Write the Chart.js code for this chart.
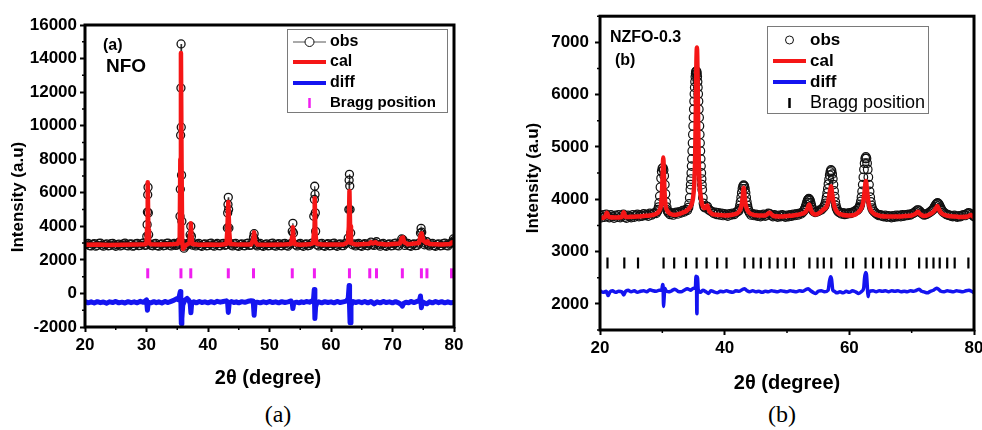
<!DOCTYPE html>
<html>
<head>
<meta charset="utf-8">
<script src="https://cdn.jsdelivr.net/npm/chart.js@4/dist/chart.umd.min.js"></script>
<style>
  html, body { margin: 0; padding: 0; background: #fff; }
  body { width: 982px; height: 430px; position: relative; overflow: hidden; }
  canvas { position: absolute; top: 0; }
  #nfo { left: 0; }
  #nzfo { left: 492px; }
  .caption {
    position: absolute;
    font-family: "Liberation Serif", "Times New Roman", serif;
    font-size: 24px;
    line-height: 1;
    transform: translate(-50%, -50%);
  }
</style>
</head>
<body>
<canvas id="nfo" width="490" height="400"></canvas>
<canvas id="nzfo" width="490" height="400"></canvas>
<div class="caption" style="left:278px; top:414px">(a)</div>
<div class="caption" style="left:782px; top:414px">(b)</div>
<script>
// ---------- NFO : [2theta, intensity] ----------
const nfoObs = [
  [20.0,2900],[20.25,2960],[20.5,2990],[20.75,2850],[21.0,2830],[21.25,2930],[21.5,2970],[21.75,2820],
  [22.0,2860],[22.25,2980],[22.5,3000],[22.75,2870],[23.0,2820],[23.25,2910],[23.5,2950],[23.75,2840],
  [24.0,2850],[24.25,2970],[24.5,2990],[24.75,2880],[25.0,2810],[25.25,2900],[25.5,2940],[25.75,2830],
  [26.0,2870],[26.25,2960],[26.5,3000],[26.75,2860],[27.0,2830],[27.25,2940],[27.5,2960],[27.75,2820],
  [28.0,2840],[28.25,2950],[28.5,2990],[28.75,2850],[29.0,2860],[29.25,2970],[29.5,3010],[29.75,2870],
  [29.9,2880],
  [30.05,3400],[30.1,4100],[30.15,4850],[30.2,5880],[30.25,6330],[30.3,4800],[30.35,3500],[30.5,2950],
  [30.75,2860],[31.0,2840],[31.25,2950],[31.5,2990],[31.75,2850],[32.0,2820],[32.25,2930],[32.5,2960],
  [32.75,2840],[33.0,2860],[33.25,2980],[33.5,3000],[33.75,2870],[34.0,2830],[34.25,2940],[34.5,2980],
  [34.75,2860],[35.0,2890],[35.15,2960],[35.3,3050],
  [35.45,4600],[35.5,6210],[35.55,9430],[35.6,12240],[35.62,14870],[35.65,9910],[35.7,7050],[35.75,4300],
  [35.85,3000],[36.1,2700],[36.3,2820],[36.5,2880],[36.7,2990],[36.9,2960],
  [37.1,3500],[37.2,4000],[37.3,3400],[37.5,2880],[37.75,2960],
  [38.0,2830],[38.25,2940],[38.5,2990],[38.75,2850],[39.0,2810],[39.25,2920],[39.5,2950],[39.75,2840],
  [40.0,2850],[40.25,2970],[40.5,3000],[40.75,2860],[41.0,2820],[41.25,2930],[41.5,2980],[41.75,2850],
  [42.0,2840],[42.25,2960],[42.5,2990],[42.75,2870],[43.0,2900],
  [43.15,3900],[43.2,4800],[43.25,5300],[43.3,5730],[43.35,5000],[43.4,3900],[43.55,3000],[43.75,2880],
  [44.0,2830],[44.25,2950],[44.5,2990],[44.75,2840],[45.0,2810],[45.25,2920],[45.5,2960],[45.75,2850],
  [46.0,2840],[46.25,2970],[46.5,3000],[46.75,2860],[47.0,2880],
  [47.4,3350],[47.5,3560],[47.6,3200],[47.8,2900],
  [48.0,2830],[48.25,2940],[48.5,2980],[48.75,2850],[49.0,2810],[49.25,2910],[49.5,2950],[49.75,2840],
  [50.0,2850],[50.25,2970],[50.5,3000],[50.75,2860],[51.0,2820],[51.25,2930],[51.5,2970],[51.75,2850],
  [52.0,2840],[52.25,2960],[52.5,2990],[52.75,2860],[53.0,2820],[53.25,2930],[53.5,2980],
  [53.7,3700],[53.8,4180],[53.9,3600],[54.2,2900],
  [54.5,2830],[54.75,2940],[55.0,2990],[55.25,2860],[55.5,2810],[55.75,2920],[56.0,2960],[56.25,2840],
  [56.5,2860],[56.75,2970],[57.0,3020],
  [57.2,4600],[57.3,5600],[57.35,6390],[57.4,5900],[57.45,4800],[57.5,3700],[57.7,2900],
  [58.0,2830],[58.25,2950],[58.5,2990],[58.75,2850],[59.0,2810],[59.25,2930],[59.5,2970],[59.75,2840],
  [60.0,2850],[60.25,2970],[60.5,3000],[60.75,2860],[61.0,2810],[61.25,2920],[61.5,2960],[61.75,2850],
  [62.0,2850],[62.25,2970],[62.5,3000],
  [62.8,3300],[62.9,5000],[62.95,6750],[63.0,7100],[63.05,6400],[63.1,5000],[63.2,3600],[63.5,2900],
  [63.75,2960],[64.0,2830],[64.25,2940],[64.5,2990],[64.75,2850],[65.0,2810],[65.25,2930],[65.5,2970],
  [65.75,2860],[66.0,2840],[66.25,2960],[66.5,3060],[66.75,2900],[67.0,2860],[67.2,2980],[67.4,3080],
  [67.7,2900],[68.0,2820],[68.25,2940],[68.5,2980],[68.75,2850],[69.0,2810],[69.25,2920],[69.5,2960],
  [69.75,2840],[70.0,2850],[70.25,2970],[70.5,3000],[70.75,2870],[71.0,2830],[71.25,2990],
  [71.5,3250],[71.7,3200],
  [72.0,2860],[72.25,2960],[72.5,2990],[72.75,2850],[73.0,2810],[73.25,2930],[73.5,2960],[73.75,2850],
  [74.0,2860],[74.3,3000],
  [74.55,3600],[74.65,3880],[74.75,3650],[74.9,3200],[75.2,2900],[75.4,2980],[75.6,3080],[75.8,2900],
  [76.0,2830],[76.25,2950],[76.5,2990],[76.75,2850],[77.0,2810],[77.25,2920],[77.5,2960],[77.75,2840],
  [78.0,2850],[78.25,2970],[78.5,3000],[78.75,2860],[79.0,2830],[79.25,2950],[79.5,2990],[79.75,3050],
  [79.9,3250],[80.0,3150]
];
const nfoCal = [
  [20,2900],[22,2915],[24,2890],[26,2905],[28,2915],[29.8,2930],[30.0,3000],[30.1,3900],[30.2,6630],
  [30.3,3800],[30.4,3000],[30.7,2930],[32,2910],[34,2925],[35.1,2960],[35.4,3300],[35.5,8000],
  [35.6,14330],[35.7,7800],[35.8,3100],[35.95,2650],[36.1,2750],[36.5,2900],[37.0,3000],[37.1,3600],
  [37.2,4180],[37.3,3500],[37.45,2950],[38.5,2900],[40,2910],[42,2900],[43.0,2950],[43.15,3800],
  [43.3,5450],[43.45,3700],[43.6,2950],[45,2910],[47,2920],[47.35,3200],[47.5,3640],[47.65,3100],
  [48,2920],[50,2900],[52,2910],[53.5,2950],[53.7,3400],[53.8,3940],[53.9,3300],[54.1,2940],[55,2900],
  [56.5,2930],[57.1,3000],[57.25,3800],[57.35,5680],[57.45,3800],[57.6,2980],[58.5,2920],[60,2910],
  [62,2920],[62.75,3050],[62.9,4000],[63.0,6100],[63.1,4000],[63.25,3000],[64,2920],[66.2,2960],
  [66.5,3060],[66.8,2980],[67.2,3060],[67.5,2980],[69,2920],[71.2,2980],[71.5,3300],[71.7,3340],
  [71.9,3050],[72.5,2930],[74.3,3000],[74.6,3500],[74.75,3580],[75.0,3150],[75.5,3000],[75.7,3100],
  [76.0,2950],[78,2920],[79.4,2950],[79.7,3050],[80,3000]
];
const nfoDiff = [
  [20.0,-480],[20.5,-560],[21.0,-500],[21.5,-570],[22.0,-490],[22.5,-550],[23.0,-510],[23.5,-580],
  [24.0,-500],[24.5,-540],[25.0,-480],[25.5,-560],[26.0,-520],[26.5,-570],[27.0,-490],[27.5,-550],
  [28.0,-500],[28.5,-560],[29.0,-470],[29.5,-530],[29.8,-440],[30.0,-380],[30.15,-1000],[30.3,-520],
  [30.7,-560],[31.2,-490],[31.6,-550],[32.0,-500],[32.5,-570],[33.0,-480],[33.5,-540],[34.0,-470],
  [34.5,-400],[34.9,-320],[35.2,-380],[35.4,-50],[35.5,120],[35.58,-300],[35.66,-1800],[35.75,-1500],
  [35.9,-700],[36.2,-420],[36.6,-300],[36.9,-420],[37.1,-600],[37.22,-1150],[37.35,-560],[37.7,-500],
  [38.1,-560],[38.6,-480],[39.0,-540],[39.5,-500],[40.0,-560],[40.5,-490],[41.0,-550],[41.5,-470],
  [42.0,-520],[42.5,-480],[43.0,-440],[43.18,-500],[43.3,-1130],[43.45,-560],[43.8,-480],[44.2,-540],
  [44.6,-500],[45.0,-560],[45.5,-490],[46.0,-530],[46.5,-470],[47.0,-440],[47.35,-450],[47.5,-1300],
  [47.65,-560],[48.0,-520],[48.5,-560],[49.0,-500],[49.5,-550],[50.0,-480],[50.5,-540],[51.0,-500],
  [51.5,-560],[52.0,-490],[52.5,-540],[53.0,-500],[53.5,-450],[53.7,-600],[53.8,-900],[53.95,-560],
  [54.4,-520],[54.8,-560],[55.2,-500],[55.6,-540],[56.0,-480],[56.5,-520],[56.9,-450],[57.15,-380],
  [57.28,240],[57.38,-1500],[57.5,-800],[57.7,-560],[58.0,-500],[58.5,-560],[59.0,-490],[59.5,-540],
  [60.0,-500],[60.5,-560],[61.0,-480],[61.5,-540],[62.0,-500],[62.5,-460],[62.8,-300],[62.95,480],
  [63.02,-800],[63.1,-1750],[63.25,-700],[63.6,-480],[64.0,-540],[64.5,-490],[65.0,-550],[65.5,-480],
  [66.0,-560],[66.5,-480],[67.0,-620],[67.5,-500],[68.0,-560],[68.5,-480],[69.0,-540],[69.5,-500],
  [70.0,-560],[70.5,-490],[71.0,-560],[71.4,-650],[71.6,-760],[71.8,-600],[72.2,-520],[72.6,-560],
  [73.0,-480],[73.5,-540],[74.0,-480],[74.4,-400],[74.55,-150],[74.7,-850],[74.85,-500],[75.2,-560],
  [75.6,-620],[76.0,-500],[76.5,-560],[77.0,-480],[77.5,-550],[78.0,-490],[78.5,-560],[79.0,-500],
  [79.5,-560],[80.0,-520]
];
const nfoBragg = [30.2, 35.6, 37.2, 43.3, 47.4, 53.7, 57.3, 63.0, 66.3, 67.4, 71.6, 74.7, 75.6, 79.6];
const nfoXTicks = [20, 30, 40, 50, 60, 70, 80];
const nfoXMinor = [25, 35, 45, 55, 65, 75];
const nfoYTicks = [-2000, 0, 2000, 4000, 6000, 8000, 10000, 12000, 14000, 16000];
const nfoYMinor = [-1000, 1000, 3000, 5000, 7000, 9000, 11000, 13000, 15000];

// ---------- NZFO-0.3 : [2theta, intensity] ----------
const nzfoObs = [
  [20.00,3690],[20.25,3650],[20.50,3700],[20.75,3660],[21.00,3710],[21.25,3680],[21.50,3650],[21.75,3700],
  [22.00,3670],[22.25,3640],[22.50,3690],[22.75,3660],[23.00,3700],[23.25,3650],[23.50,3680],[23.75,3710],
  [24.00,3660],[24.25,3640],[24.50,3690],[24.75,3670],[25.00,3650],[25.25,3700],[25.50,3660],[25.75,3690],
  [26.00,3710],[26.25,3670],[26.50,3700],[26.75,3680],[27.00,3720],[27.25,3690],[27.50,3710],[27.75,3680],
  [28.00,3730],[28.25,3700],[28.50,3720],[28.75,3740],[29.00,3730],
  [29.2,3770],[29.3,3800],[29.4,3850],[29.5,3930],[29.6,4060],[29.7,4230],[29.8,4400],[29.9,4530],
  [30.0,4590],[30.1,4600],[30.2,4560],[30.3,4450],[30.4,4280],[30.5,4100],[30.6,3950],[30.7,3850],
  [30.8,3790],[30.9,3760],[31.0,3740],
  [31.25,3710],[31.5,3740],[31.75,3700],[32.0,3730],[32.25,3750],[32.5,3720],[32.75,3760],[33.0,3740],
  [33.25,3780],[33.5,3760],[33.75,3800],[34.0,3790],[34.2,3840],
  [34.30,3910],[34.40,4030],[34.50,4185],[34.55,4279],[34.60,4386],[34.65,4503],[34.70,4634],[34.75,4772],
  [34.80,4922],[34.85,5075],[34.90,5239],[34.95,5400],[35.00,5564],[35.05,5721],[35.10,5873],[35.15,6013],
  [35.20,6139],[35.25,6246],[35.30,6340],[35.35,6398],[35.40,6437],[35.45,6450],[35.50,6437],[35.55,6398],
  [35.60,6340],[35.65,6246],[35.70,6139],[35.75,6013],[35.80,5873],[35.85,5721],[35.90,5564],[35.95,5400],
  [36.00,5239],[36.05,5075],[36.10,4922],[36.15,4772],[36.20,4634],[36.25,4503],[36.30,4386],[36.35,4279],
  [36.40,4185],[36.50,4030],[36.60,3920],[36.70,3860],
  [36.8,3840],[37.0,3870],[37.2,3860],[37.45,3800],[37.7,3780],[38.0,3760],[38.25,3730],[38.5,3750],
  [38.75,3710],[39.0,3740],[39.25,3700],[39.5,3730],[39.75,3690],[40.0,3720],[40.25,3700],[40.5,3680],
  [40.75,3720],[41.0,3700],[41.25,3730],[41.5,3710],[41.75,3740],[42.0,3760],
  [42.25,3780],[42.35,3820],[42.45,3880],[42.55,3950],[42.65,4035],[42.75,4125],[42.85,4200],[42.95,4250],
  [43.05,4270],[43.15,4250],[43.25,4200],[43.35,4125],[43.45,4035],[43.55,3950],[43.65,3880],[43.75,3820],
  [43.85,3780],[44.0,3740],
  [44.25,3700],[44.5,3720],[44.75,3690],[45.0,3710],[45.25,3680],[45.5,3700],[45.75,3670],[46.0,3690],
  [46.25,3710],[46.5,3680],[46.75,3700],[47.0,3730],[47.25,3720],[47.5,3690],[47.75,3670],[48.0,3700],
  [48.25,3680],[48.5,3660],[48.75,3690],[49.0,3670],[49.25,3700],[49.5,3680],[49.75,3660],[50.0,3690],
  [50.25,3670],[50.5,3700],[50.75,3680],[51.0,3710],[51.25,3690],[51.5,3720],[51.75,3700],[52.0,3730],
  [52.25,3720],[52.5,3750],
  [52.7,3780],[52.8,3800],[52.9,3830],[53.0,3860],[53.1,3900],[53.2,3940],[53.3,3975],[53.4,3995],
  [53.5,4010],[53.6,3995],[53.7,3970],[53.8,3930],[53.9,3880],[54.0,3840],[54.1,3800],[54.25,3770],
  [54.5,3750],[54.75,3760],[55.0,3770],[55.25,3790],[55.5,3800],[55.75,3830],
  [55.95,3860],[56.05,3880],[56.15,3920],[56.25,3970],[56.35,4040],[56.45,4120],[56.55,4200],[56.65,4290],
  [56.75,4380],[56.85,4460],[56.95,4520],[57.05,4560],[57.15,4540],[57.25,4480],[57.35,4390],[57.45,4280],
  [57.55,4160],[57.65,4050],[57.75,3950],[57.85,3880],[57.95,3830],[58.1,3790],[58.25,3760],
  [58.5,3740],[58.75,3720],[59.0,3740],[59.25,3710],[59.5,3730],[59.75,3720],[60.0,3740],[60.25,3730],
  [60.5,3750],[60.75,3760],[61.0,3780],[61.25,3790],
  [61.45,3820],[61.55,3840],[61.65,3860],[61.75,3900],[61.85,3960],[61.95,4040],[62.05,4150],[62.15,4280],
  [62.25,4420],[62.35,4570],[62.45,4690],[62.55,4780],[62.65,4810],[62.75,4780],[62.85,4690],[62.95,4570],
  [63.05,4420],[63.15,4280],[63.25,4150],[63.35,4040],[63.45,3950],[63.55,3880],[63.65,3830],[63.8,3790],
  [64.0,3760],
  [64.25,3730],[64.5,3710],[64.75,3690],[65.0,3700],[65.25,3680],[65.5,3670],[65.75,3690],[66.0,3660],
  [66.25,3680],[66.5,3670],[66.75,3650],[67.0,3680],[67.25,3660],[67.5,3690],[67.75,3670],[68.0,3690],
  [68.25,3670],[68.5,3700],[68.75,3680],[69.0,3700],[69.25,3690],[69.5,3710],[69.75,3700],[70.0,3720],
  [70.25,3730],[70.5,3750],[70.7,3770],[70.9,3790],[71.1,3790],[71.3,3770],[71.5,3740],[71.75,3720],
  [72.0,3700],[72.25,3710],[72.5,3720],[72.75,3740],[73.0,3760],
  [73.2,3780],[73.4,3800],[73.55,3830],[73.7,3860],[73.85,3890],[74.0,3915],[74.15,3930],[74.3,3915],
  [74.45,3885],[74.6,3850],[74.75,3810],[74.9,3780],[75.1,3750],[75.35,3730],[75.6,3710],[75.85,3700],
  [76.1,3690],[76.35,3680],[76.6,3670],[76.85,3690],[77.1,3670],[77.35,3660],[77.6,3680],[77.85,3670],
  [78.1,3690],[78.35,3700],[78.6,3690],[78.85,3720],[79.1,3740],[79.35,3730],[79.6,3710],[79.85,3690],[80.0,3670]
];
const nzfoCal = [
  [20.0,3640],[20.8,3660],[21.1,3740],[21.4,3660],[22.5,3650],[23.5,3660],[23.8,3750],[24.1,3660],
  [25.0,3665],[26.0,3670],[27.0,3680],[28.0,3690],[29.0,3720],[29.5,3780],[29.8,3900],[29.95,4150],
  [30.05,4500],[30.15,4800],[30.25,4500],[30.35,4150],[30.5,3900],[30.8,3780],[31.3,3720],[32.0,3700],
  [33.0,3730],[34.0,3790],[34.6,3880],[34.9,4000],[35.1,4250],[35.25,4700],[35.35,5500],[35.45,6500],
  [35.55,6900],[35.65,6400],[35.75,5400],[35.85,4700],[36.0,4250],[36.3,3950],[36.7,3830],[37.0,3850],
  [37.2,3880],[37.5,3780],[38.0,3720],[39.0,3700],[40.0,3690],[41.0,3700],[42.0,3730],[42.4,3780],
  [42.7,3880],[42.9,4050],[43.05,4220],[43.2,4050],[43.4,3880],[43.7,3780],[44.2,3720],[45.5,3690],
  [46.5,3690],[47.2,3740],[47.8,3680],[49.0,3670],[50.0,3680],[51.0,3690],[52.0,3710],[53.0,3760],
  [53.3,3830],[53.55,3900],[53.8,3810],[54.1,3730],[54.6,3710],[55.2,3740],[55.8,3800],[56.3,3850],
  [56.6,3950],[56.85,4120],[57.05,4250],[57.25,4100],[57.5,3920],[57.8,3800],[58.3,3730],[59.0,3700],
  [60.0,3690],[61.0,3710],[61.5,3760],[61.9,3820],[62.2,3930],[62.45,4150],[62.65,4350],[62.85,4150],
  [63.1,3920],[63.4,3800],[64.0,3720],[65.0,3680],[66.0,3670],[67.0,3670],[68.0,3670],[69.0,3680],
  [70.0,3690],[70.6,3720],[71.0,3760],[71.4,3710],[72.0,3680],[73.0,3720],[73.5,3760],[73.85,3820],
  [74.1,3870],[74.4,3800],[74.8,3730],[76.0,3680],[77.0,3670],[78.0,3660],[79.0,3670],[79.5,3700],[80.0,3650]
];
const nzfoDiff = [
  [20.0,2250],[20.5,2220],[21.0,2240],[21.3,2160],[21.6,2230],[22.0,2250],[22.5,2220],[23.0,2240],
  [23.5,2230],[23.8,2170],[24.1,2240],[24.5,2260],[25.0,2230],[25.5,2250],[26.0,2220],[26.5,2240],
  [27.0,2250],[27.5,2230],[28.0,2270],[28.5,2250],[29.0,2240],[29.5,2260],[29.9,2260],[30.05,2370],
  [30.12,2340],[30.2,1950],[30.28,2100],[30.4,2300],[30.6,2250],[31.0,2230],[31.5,2250],[32.0,2280],
  [32.5,2240],[33.0,2230],[33.5,2260],[34.0,2290],[34.5,2260],[35.0,2300],[35.3,2300],[35.4,2530],
  [35.48,2520],[35.52,1900],[35.56,1810],[35.6,2520],[35.66,2480],[35.75,2280],[36.1,2220],[36.5,2260],
  [37.0,2230],[37.4,2200],[37.8,2250],[38.3,2230],[38.8,2210],[39.3,2240],[39.8,2230],[40.3,2250],
  [40.8,2230],[41.3,2220],[41.8,2250],[42.3,2240],[42.8,2270],[43.2,2290],[43.6,2250],[44.0,2230],
  [44.5,2250],[45.0,2230],[45.5,2240],[46.0,2220],[46.5,2240],[47.0,2230],[47.5,2250],[48.0,2240],
  [48.5,2230],[49.0,2250],[49.5,2240],[50.0,2230],[50.5,2250],[51.0,2240],[51.5,2230],[52.0,2250],
  [52.5,2240],[53.0,2270],[53.4,2290],[53.8,2250],[54.2,2220],[54.6,2200],[55.0,2240],[55.5,2250],
  [56.0,2230],[56.6,2260],[56.8,2420],[57.0,2520],[57.15,2470],[57.35,2260],[57.6,2240],[58.0,2210],
  [58.5,2230],[59.0,2210],[59.5,2240],[60.0,2220],[60.5,2250],[61.0,2230],[61.5,2200],[62.0,2240],
  [62.3,2300],[62.45,2500],[62.6,2600],[62.75,2560],[62.9,2300],[63.0,2140],[63.15,2230],[63.8,2250],
  [64.3,2230],[64.8,2250],[65.3,2240],[65.8,2250],[66.3,2230],[66.8,2250],[67.3,2240],[67.8,2250],
  [68.3,2230],[68.8,2240],[69.3,2230],[69.8,2250],[70.3,2240],[70.8,2260],[71.2,2280],[71.6,2240],
  [72.0,2230],[72.5,2210],[73.0,2240],[73.5,2260],[74.0,2300],[74.3,2280],[74.7,2240],[75.2,2230],
  [75.7,2250],[76.2,2240],[76.7,2230],[77.2,2250],[77.7,2240],[78.2,2230],[78.7,2250],[79.2,2260],
  [79.6,2240],[80.0,2210]
];
const nzfoBragg = [21.2, 23.9, 26.1, 30.2, 31.9, 33.8, 35.5, 37.1, 38.8, 40.3, 43.2, 44.6, 45.8, 47.2,
  48.5, 49.8, 51.1, 53.6, 54.9, 55.9, 57.1, 59.5, 60.6, 62.6, 63.8, 65.1, 66.4, 67.6, 68.9, 71.2,
  72.4, 73.5, 74.5, 75.7, 76.9, 79.1];
const nzfoXTicks = [20, 40, 60, 80];
const nzfoXMinor = [30, 50, 70];
const nzfoYTicks = [2000, 3000, 4000, 5000, 6000, 7000];
const nzfoYMinor = [1500, 2500, 3500, 4500, 5500, 6500, 7500];

const legendLabels = ['obs', 'cal', 'diff', 'Bragg position'];

const FONT = '"Liberation Sans", Arial, Helvetica, sans-serif';
const RED = '#f51616';
const BLUE = '#1414f0';
const MAGENTA = '#f01ef0';

// frame, minor ticks, axis titles, labels and the boxed legend
const panelDecor = {
  id: 'panelDecor',
  afterDatasetsDraw(chart, args, opts) {
    const { ctx, chartArea: a, scales } = chart;
    ctx.save();

    ctx.strokeStyle = '#000';
    ctx.lineWidth = 1.5;
    ctx.beginPath();
    opts.minorX.forEach(v => {
      const x = scales.x.getPixelForValue(v);
      ctx.moveTo(x, a.bottom);
      ctx.lineTo(x, a.bottom + 3);
    });
    opts.minorY.forEach(v => {
      const y = scales.y.getPixelForValue(v);
      ctx.moveTo(a.left, y);
      ctx.lineTo(a.left - 3, y);
    });
    ctx.stroke();

    ctx.lineWidth = 3;
    ctx.strokeRect(a.left, a.top, a.right - a.left, a.bottom - a.top);

    ctx.fillStyle = '#000';
    ctx.textBaseline = 'middle';
    ctx.textAlign = 'center';
    ctx.font = `bold 20px ${FONT}`;
    ctx.fillText('2\u03B8 (degree)', opts.xTitle[0], opts.xTitle[1]);
    ctx.save();
    ctx.translate(opts.yTitle[0], opts.yTitle[1]);
    ctx.rotate(-Math.PI / 2);
    ctx.font = `bold 17px ${FONT}`;
    ctx.fillText('Intensity (a.u)', 0, 0);
    ctx.restore();

    ctx.textAlign = 'left';
    opts.notes.forEach(n => {
      ctx.font = `bold ${n.size}px ${FONT}`;
      ctx.fillText(n.text, n.x, n.y);
    });

    const lg = opts.legend;
    const [bx, by, bw, bh] = lg.box;
    ctx.fillStyle = '#fff';
    ctx.fillRect(bx, by, bw, bh);
    ctx.strokeStyle = '#7a7a7a';
    ctx.lineWidth = 1;
    ctx.strokeRect(bx + 0.5, by + 0.5, bw, bh);

    const x0 = bx + 6, x1 = bx + 39, xm = (x0 + x1) / 2;
    legendLabels.forEach((label, i) => {
      const y = lg.rows[i];
      ctx.lineCap = 'butt';
      if (i === 0) {
        if (lg.obsLine) {
          ctx.strokeStyle = '#555';
          ctx.lineWidth = 1;
          ctx.beginPath(); ctx.moveTo(x0, y); ctx.lineTo(x1, y); ctx.stroke();
        }
        ctx.fillStyle = '#fff';
        ctx.strokeStyle = '#111';
        ctx.lineWidth = 1;
        ctx.beginPath(); ctx.arc(xm, y, lg.dot, 0, Math.PI * 2); ctx.fill(); ctx.stroke();
      } else if (i < 3) {
        ctx.strokeStyle = i === 1 ? RED : BLUE;
        ctx.lineWidth = 4;
        ctx.beginPath(); ctx.moveTo(x0, y); ctx.lineTo(x1, y); ctx.stroke();
      } else {
        ctx.strokeStyle = lg.braggColor;
        ctx.lineWidth = 2.5;
        ctx.beginPath(); ctx.moveTo(xm, y - 5); ctx.lineTo(xm, y + 5); ctx.stroke();
      }
      ctx.fillStyle = '#000';
      ctx.font = i === 3 ? lg.braggFont : lg.font;
      ctx.fillText(label, x1 + 4, y);
    });

    ctx.restore();
  }
};

function xrdChart(canvasId, p) {
  const tickFont = { family: FONT, size: 17, weight: 'bold' };
  return new Chart(document.getElementById(canvasId), {
    type: 'scatter',
    plugins: [panelDecor],
    data: {
      datasets: [
        {
          label: 'cal', data: p.cal, showLine: true, pointRadius: 0,
          borderColor: RED, borderWidth: p.calWidth, borderJoinStyle: 'round', order: 1,
          cubicInterpolationMode: p.smooth ? 'monotone' : 'default'
        },
        {
          label: 'obs', data: p.obs, showLine: p.obsLine, borderColor: '#333', borderWidth: 1.2,
          pointRadius: p.dot, pointBorderWidth: p.dotWidth, pointBorderColor: '#111',
          pointBackgroundColor: 'rgba(255,255,255,0)', order: 2
        },
        {
          label: 'diff', data: p.diff, showLine: true, pointRadius: 0,
          borderColor: BLUE, borderWidth: p.diffWidth, borderJoinStyle: 'round', order: 3,
          cubicInterpolationMode: p.smooth ? 'monotone' : 'default'
        },
        {
          label: 'Bragg position', data: p.bragg.map(t => [t, p.braggLevel]),
          pointStyle: 'line', rotation: 90, pointRadius: p.braggLen,
          pointBorderWidth: p.braggWidth, pointBorderColor: p.braggColor,
          borderColor: p.braggColor, order: 4
        }
      ]
    },
    options: {
      responsive: false,
      animation: false,
      devicePixelRatio: 1,
      events: [],
      layout: { padding: { top: p.top, right: p.right, left: 0, bottom: 0 } },
      plugins: {
        legend: { display: false },
        tooltip: { enabled: false },
        panelDecor: p.decor
      },
      scales: {
        x: {
          type: 'linear', min: 20, max: 80,
          afterBuildTicks: s => { s.ticks = p.xTicks.map(v => ({ value: v })); },
          afterFit: s => { s.height = p.xHeight; s.paddingLeft = 0; s.paddingRight = 0; },
          grid: { drawOnChartArea: false, tickLength: 5, tickWidth: 2, tickColor: '#000' },
          border: { display: false },
          ticks: { color: '#000', font: tickFont, padding: 3, maxRotation: 0, autoSkip: false,
                   callback: v => String(v) }
        },
        y: {
          type: 'linear', min: p.yMin, max: p.yMax,
          afterBuildTicks: s => { s.ticks = p.yTicks.map(v => ({ value: v })); },
          afterFit: s => { s.width = p.yWidth; },
          grid: { drawOnChartArea: false, tickLength: 5, tickWidth: 2, tickColor: '#000' },
          border: { display: false },
          ticks: { color: '#000', font: tickFont, padding: p.yPad, autoSkip: false,
                   callback: v => String(v) }
        }
      }
    }
  });
}

xrdChart('nfo', {
  obs: nfoObs, cal: nfoCal, diff: nfoDiff, bragg: nfoBragg,
  braggLevel: 1200, braggLen: 5, braggWidth: 3, braggColor: MAGENTA,
  obsLine: true, dot: 4, dotWidth: 1.3, calWidth: 4.5, diffWidth: 5, smooth: false,
  xTicks: nfoXTicks, yTicks: nfoYTicks, yMin: -2000, yMax: 16000,
  top: 25, right: 36, xHeight: 73, yWidth: 85, yPad: 3,
  decor: {
    minorX: nfoXMinor, minorY: nfoYMinor,
    xTitle: [268, 378], yTitle: [18, 197],
    notes: [{ text: '(a)', x: 103, y: 46, size: 16 }, { text: 'NFO', x: 106, y: 67, size: 19 }],
    legend: {
      box: [287, 29, 160, 83], rows: [42, 62, 83, 103], dot: 4.5, obsLine: true,
      braggColor: MAGENTA, font: `bold 16px ${FONT}`, braggFont: `bold 15px ${FONT}`
    }
  }
});

xrdChart('nzfo', {
  obs: nzfoObs, cal: nzfoCal, diff: nzfoDiff, bragg: nzfoBragg,
  braggLevel: 2780, braggLen: 5.5, braggWidth: 2.2, braggColor: '#000',
  obsLine: false, dot: 4.3, dotWidth: 1.2, calWidth: 4.5, diffWidth: 3.5, smooth: true,
  xTicks: nzfoXTicks, yTicks: nzfoYTicks, yMin: 1500, yMax: 7500,
  top: 15, right: 8, xHeight: 70, yWidth: 108, yPad: 6,
  decor: {
    minorX: nzfoXMinor, minorY: nzfoYMinor,
    xTitle: [295, 383], yTitle: [41, 178],
    notes: [{ text: 'NZFO-0.3', x: 118, y: 38, size: 16 }, { text: '(b)', x: 123, y: 61, size: 16 }],
    legend: {
      box: [275, 26, 161, 87], rows: [40, 61, 82, 103], dot: 4, obsLine: false,
      braggColor: '#000', font: `bold 17px ${FONT}`, braggFont: `18px ${FONT}`
    }
  }
});
</script>
</body>
</html>
